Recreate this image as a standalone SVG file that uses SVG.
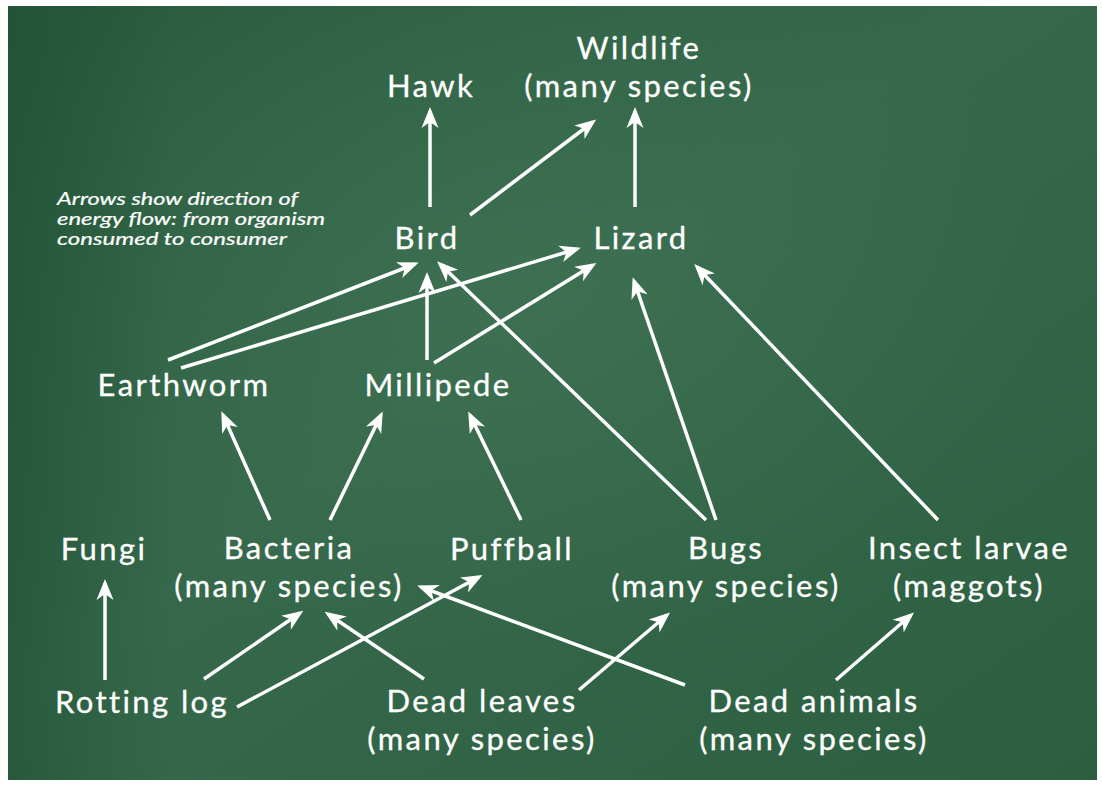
<svg xmlns="http://www.w3.org/2000/svg" width="1102" height="786" viewBox="0 0 1102 786">
<defs>
<linearGradient id="bg" x1="0" y1="0" x2="1" y2="1">
<stop offset="0" stop-color="#275a3c"/>
<stop offset="0.45" stop-color="#36694b"/>
<stop offset="1" stop-color="#2c5f40"/>
</linearGradient>
<radialGradient id="glow" cx="0.45" cy="0.35" r="0.5">
<stop offset="0" stop-color="#467a5b" stop-opacity="0.45"/>
<stop offset="1" stop-color="#467a5b" stop-opacity="0"/>
</radialGradient>
<linearGradient id="edge" x1="0" y1="0" x2="1" y2="0">
<stop offset="0" stop-color="#1f4f33" stop-opacity="0.6"/>
<stop offset="0.15" stop-color="#1f4f33" stop-opacity="0"/>
<stop offset="1" stop-color="#1f4f33" stop-opacity="0"/>
</linearGradient>
<marker id="ah" viewBox="-18 -9 22 18" refX="0" refY="0" markerWidth="22" markerHeight="18" markerUnits="userSpaceOnUse" orient="auto">
<path d="M4,0 L-17,-8.5 L-11,0 L-17,8.5 Z" fill="#ffffff"/>
</marker>
</defs>
<style>
.lbl{font-family:Lato,"Open Sans","Liberation Sans",sans-serif;font-size:31px;fill:#ffffff;stroke:#ffffff;stroke-width:0.3;text-anchor:middle;letter-spacing:2.4px}
.note{font-family:Lato,"Open Sans","Liberation Sans",sans-serif;font-size:16.5px;font-style:italic;fill:#ffffff;stroke:#ffffff;stroke-width:0.2}
.c{stroke:#ffffff;stroke-width:3.5;fill:none;marker-end:url(#ah)}
</style>
<rect x="0" y="0" width="1102" height="786" fill="#ffffff"/>
<rect x="8" y="6" width="1089" height="774" fill="url(#bg)"/>
<rect x="8" y="6" width="1089" height="774" fill="url(#glow)"/>
<rect x="8" y="6" width="1089" height="774" fill="url(#edge)"/>

<g id="note">
<text class="note" x="57" y="205" textLength="241" lengthAdjust="spacingAndGlyphs">Arrows show direction of</text>
<text class="note" x="57" y="225" textLength="268" lengthAdjust="spacingAndGlyphs">energy flow: from organism</text>
<text class="note" x="57" y="245" textLength="230" lengthAdjust="spacingAndGlyphs">consumed to consumer</text>
</g>

<g id="connectors">
<line class="c" x1="430" y1="207" x2="430" y2="111"/>
<line class="c" x1="470" y1="215" x2="593" y2="122"/>
<line class="c" x1="635" y1="207" x2="635" y2="111"/>
<line class="c" x1="168" y1="360" x2="415" y2="264"/>
<line class="c" x1="181" y1="368" x2="577" y2="249"/>
<line class="c" x1="427" y1="360" x2="427" y2="276"/>
<line class="c" x1="434" y1="363" x2="593" y2="265"/>
<line class="c" x1="706" y1="520" x2="440" y2="264"/>
<line class="c" x1="716" y1="520" x2="634" y2="281"/>
<line class="c" x1="938" y1="520" x2="697" y2="267"/>
<line class="c" x1="270" y1="520" x2="223" y2="415"/>
<line class="c" x1="330" y1="520" x2="381" y2="415"/>
<line class="c" x1="521" y1="520" x2="470" y2="415"/>
<line class="c" x1="105" y1="680" x2="105" y2="583"/>
<line class="c" x1="204" y1="679" x2="300" y2="613"/>
<line class="c" x1="237" y1="707" x2="479" y2="577"/>
<line class="c" x1="424" y1="679" x2="328" y2="614"/>
<line class="c" x1="685" y1="685" x2="421" y2="587"/>
<line class="c" x1="579" y1="690" x2="667" y2="615"/>
<line class="c" x1="836" y1="680" x2="911" y2="615"/>
</g>

<g id="hawk"><text class="lbl" x="431" y="97">Hawk</text></g>
<g id="wildlife"><text class="lbl" x="639" y="59">Wildlife</text><text class="lbl" x="639" y="97">(many species)</text></g>
<g id="bird"><text class="lbl" x="427" y="249">Bird</text></g>
<g id="lizard"><text class="lbl" x="641" y="249">Lizard</text></g>
<g id="earthworm"><text class="lbl" x="184" y="396">Earthworm</text></g>
<g id="millipede"><text class="lbl" x="438" y="396">Millipede</text></g>
<g id="fungi"><text class="lbl" x="104" y="560">Fungi</text></g>
<g id="bacteria"><text class="lbl" x="289" y="559">Bacteria</text><text class="lbl" x="289" y="597">(many species)</text></g>
<g id="puffball"><text class="lbl" x="512" y="560">Puffball</text></g>
<g id="bugs"><text class="lbl" x="726" y="559">Bugs</text><text class="lbl" x="726" y="597">(many species)</text></g>
<g id="insect-larvae"><text class="lbl" x="969" y="559">Insect larvae</text><text class="lbl" x="969" y="597">(maggots)</text></g>
<g id="rotting-log"><text class="lbl" x="142" y="713">Rotting log</text></g>
<g id="dead-leaves"><text class="lbl" x="482" y="712">Dead leaves</text><text class="lbl" x="482" y="750">(many species)</text></g>
<g id="dead-animals"><text class="lbl" x="814" y="712">Dead animals</text><text class="lbl" x="814" y="750">(many species)</text></g>
</svg>
